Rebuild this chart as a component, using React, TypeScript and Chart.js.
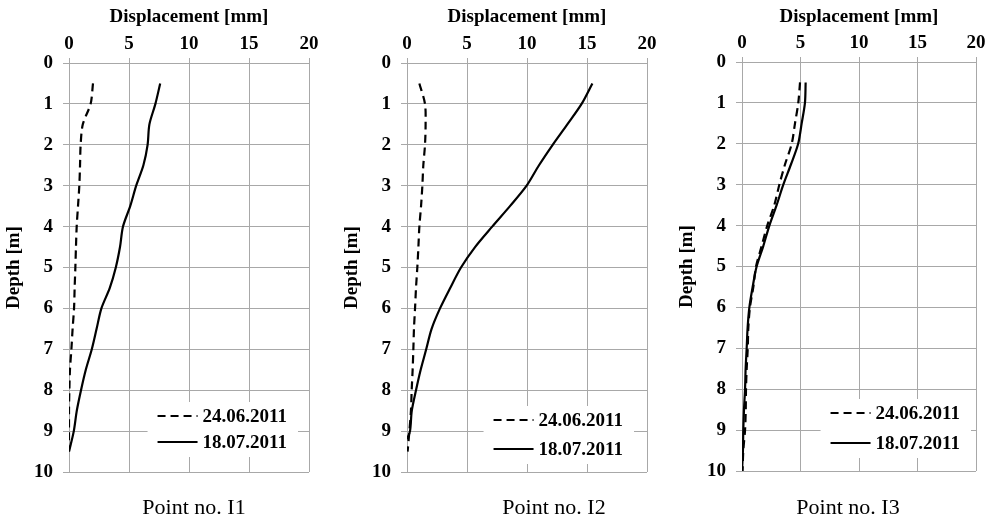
import React, { useEffect, useRef } from "react";
import { Chart, registerables } from "chart.js";

Chart.register(...registerables);

const FONT = "'Liberation Serif', 'Times New Roman', Times, serif";

// ---- data ----
const seriesNames = ["24.06.2011", "18.07.2011"];
const captions = ["Point no. I1", "Point no. I2", "Point no. I3"];
const xAxisTitle = "Displacement [mm]";
const yAxisTitle = "Depth [m]";
const xTickValues = [0, 5, 10, 15, 20];
const yTickValues = [0, 1, 2, 3, 4, 5, 6, 7, 8, 9, 10];

const depthTo95 = [0.5, 1, 1.5, 2, 2.5, 3, 3.5, 4, 4.5, 5, 5.5, 6, 6.5, 7, 7.5, 8, 8.5, 9, 9.5];
const depthTo92 = [0.5, 1, 1.5, 2, 2.5, 3, 3.5, 4, 4.5, 5, 5.5, 6, 6.5, 7, 7.5, 8, 8.5, 9, 9.2];
const depthTo10 = [0.5, 1, 1.5, 2, 2.5, 3, 3.5, 4, 4.5, 5, 5.5, 6, 6.5, 7, 7.5, 8, 8.5, 9, 9.5, 10];

const i1June = [2.0, 1.8, 1.15, 0.97, 0.92, 0.86, 0.75, 0.64, 0.58, 0.53, 0.47, 0.42, 0.3, 0.2, 0.08, 0.03, 0, 0, 0];
const i1July = [7.6, 7.2, 6.7, 6.55, 6.2, 5.6, 5.1, 4.5, 4.25, 3.9, 3.4, 2.7, 2.3, 1.9, 1.4, 1.0, 0.65, 0.4, 0.0];

const i2June = [1.03, 1.5, 1.55, 1.5, 1.36, 1.28, 1.17, 1.03, 0.95, 0.86, 0.75, 0.67, 0.58, 0.53, 0.47, 0.39, 0.33, 0.2, 0.05];
const i2July = [15.45, 14.55, 13.36, 12.14, 11.0, 9.97, 8.58, 7.1, 5.67, 4.5, 3.6, 2.75, 2.05, 1.6, 1.14, 0.75, 0.4, 0.25, 0];

const i3June = [4.96, 4.81, 4.53, 4.25, 3.68, 3.19, 2.76, 2.16, 1.68, 1.2, 0.97, 0.68, 0.54, 0.49, 0.4, 0.34, 0.32, 0.26, 0.11, 0.05];
const i3July = [5.44, 5.38, 5.1, 4.8, 4.19, 3.53, 2.96, 2.34, 1.82, 1.25, 0.91, 0.63, 0.48, 0.4, 0.31, 0.26, 0.17, 0.11, 0.08, 0.0];

const panelSeries = [
  { june: i1June, juneDepth: depthTo95, july: i1July, julyDepth: depthTo95 },
  { june: i2June, juneDepth: depthTo95, july: i2July, julyDepth: depthTo92 },
  { june: i3June, juneDepth: depthTo10, july: i3July, julyDepth: depthTo10 },
];

// ---- layout (pixels) ----
const Y_AXIS_W = 69;
const RIGHT_PAD = 16;
const PAGE_H = 524;
const panelLayout = [
  { plotLeft: 69, plotW: 240, plotTop: 63, plotBottom: 472, captionX: 194, legend: { right: 22, bottom: 56, gap: 26 } },
  { plotLeft: 407, plotW: 240, plotTop: 63, plotBottom: 472, captionX: 554, legend: { right: 24, bottom: 52, gap: 29 } },
  { plotLeft: 742, plotW: 234, plotTop: 62, plotBottom: 471, captionX: 848, legend: { right: 16, bottom: 58, gap: 30 } },
];

const GRID = "#a8a8a8";
const boldFont = { family: FONT, size: 19, weight: "bold" as const };

function toPoints(xs: number[], ys: number[]) {
  return xs.map((v, i) => ({ x: v, y: ys[i] }));
}

function makeLegendPlugin(lg: { right: number; bottom: number; gap: number }) {
  const geom = (chart: any) => {
    const { ctx, chartArea } = chart;
    ctx.save();
    ctx.font = `bold 19px ${FONT}`;
    const ds = chart.data.datasets;
    const tw = Math.max(...ds.map((d: any) => ctx.measureText(d.label).width));
    ctx.restore();
    const textRight = chartArea.right - lg.right;
    const textLeft = textRight - tw;
    const lineEnd = textLeft - 5;
    const lineStart = lineEnd - 40;
    const y1 = chartArea.bottom - lg.bottom;
    return { textLeft, textRight, lineStart, lineEnd, y1 };
  };
  return {
    id: "insideLegend",
    beforeDatasetsDraw(chart: any) {
      const g = geom(chart);
      const ctx = chart.ctx;
      ctx.save();
      ctx.fillStyle = "#ffffff";
      ctx.fillRect(g.lineStart - 10, g.y1 - 14, g.textRight + 11 - (g.lineStart - 10), lg.gap + 29);
      ctx.restore();
    },
    afterDatasetsDraw(chart: any) {
      const g = geom(chart);
      const ctx = chart.ctx;
      ctx.save();
      chart.data.datasets.forEach((d: any, i: number) => {
        const y = g.y1 + i * lg.gap;
        ctx.strokeStyle = d.borderColor;
        ctx.lineWidth = d.borderWidth;
        ctx.setLineDash(d.borderDash || []);
        ctx.beginPath();
        ctx.moveTo(g.lineStart, y);
        ctx.lineTo(g.lineEnd, y);
        ctx.stroke();
        ctx.setLineDash([]);
        ctx.fillStyle = "#000";
        ctx.font = `bold 19px ${FONT}`;
        ctx.textAlign = "left";
        ctx.textBaseline = "middle";
        ctx.fillText(d.label, g.textLeft, y + 1);
      });
      ctx.restore();
    },
  };
}

function Panel({ index }: { index: number }) {
  const ref = useRef<HTMLCanvasElement | null>(null);
  const lay = panelLayout[index];
  const s = panelSeries[index];
  const width = Y_AXIS_W + lay.plotW + RIGHT_PAD;
  const left = lay.plotLeft - Y_AXIS_W;

  useEffect(() => {
    if (!ref.current) return;
    const chart = new Chart(ref.current, {
      type: "scatter",
      data: {
        datasets: [
          {
            label: seriesNames[0],
            data: toPoints(s.june, s.juneDepth),
            showLine: true,
            borderColor: "#000",
            backgroundColor: "#000",
            borderWidth: 2.2,
            borderDash: [8, 5],
            pointRadius: 0,
            tension: 0.3,
          },
          {
            label: seriesNames[1],
            data: toPoints(s.july, s.julyDepth),
            showLine: true,
            borderColor: "#000",
            backgroundColor: "#000",
            borderWidth: 2.2,
            pointRadius: 0,
            tension: 0.3,
          },
        ],
      },
      options: {
        responsive: false,
        animation: false,
        layout: { padding: { left: 0, right: RIGHT_PAD, top: 0, bottom: PAGE_H - lay.plotBottom } },
        plugins: {
          legend: { display: false },
          tooltip: { enabled: false },
          title: { display: false },
        },
        scales: {
          x: {
            type: "linear",
            position: "top",
            min: 0,
            max: 20,
            afterBuildTicks: (axis: any) => {
              axis.ticks = xTickValues.map((v) => ({ value: v }));
            },
            afterFit: (axis: any) => {
              axis.height = lay.plotTop;
            },
            ticks: { color: "#000", font: boldFont, padding: 3, maxRotation: 0 },
            grid: { color: GRID, lineWidth: 1, tickLength: 5, drawTicks: true },
            border: { display: true, color: GRID },
            title: {
              display: true,
              text: xAxisTitle,
              color: "#000",
              font: boldFont,
              padding: { top: 6, bottom: 0 },
            },
          },
          y: {
            type: "linear",
            position: "left",
            reverse: true,
            min: 0,
            max: 10,
            afterBuildTicks: (axis: any) => {
              axis.ticks = yTickValues.map((v) => ({ value: v }));
            },
            afterFit: (axis: any) => {
              axis.width = Y_AXIS_W;
            },
            ticks: { color: "#000", font: boldFont, padding: 10 },
            grid: { color: GRID, lineWidth: 1, tickLength: 6, drawTicks: true },
            border: { display: true, color: GRID },
            title: {
              display: true,
              text: yAxisTitle,
              color: "#000",
              font: boldFont,
              padding: { top: 3, bottom: 0 },
            },
          },
        },
      } as any,
      plugins: [makeLegendPlugin(lay.legend)],
    });
    return () => chart.destroy();
  }, [index]);

  return (
    <>
      <div style={{ position: "absolute", left, top: 0, width, height: PAGE_H }}>
        <canvas ref={ref} width={width} height={PAGE_H} style={{ width, height: PAGE_H, display: "block" }} />
      </div>
      <div
        style={{
          position: "absolute",
          left: lay.captionX - 100,
          top: 492,
          width: 200,
          height: 30,
          lineHeight: "30px",
          textAlign: "center",
          fontFamily: FONT,
          fontSize: 22,
          color: "#000",
          whiteSpace: "nowrap",
        }}
      >
        {captions[index]}
      </div>
    </>
  );
}

export default function App() {
  return (
    <div style={{ position: "absolute", left: 0, top: 0, width: 992, height: PAGE_H, background: "#fff", overflow: "hidden" }}>
      <Panel index={0} />
      <Panel index={1} />
      <Panel index={2} />
    </div>
  );
}
